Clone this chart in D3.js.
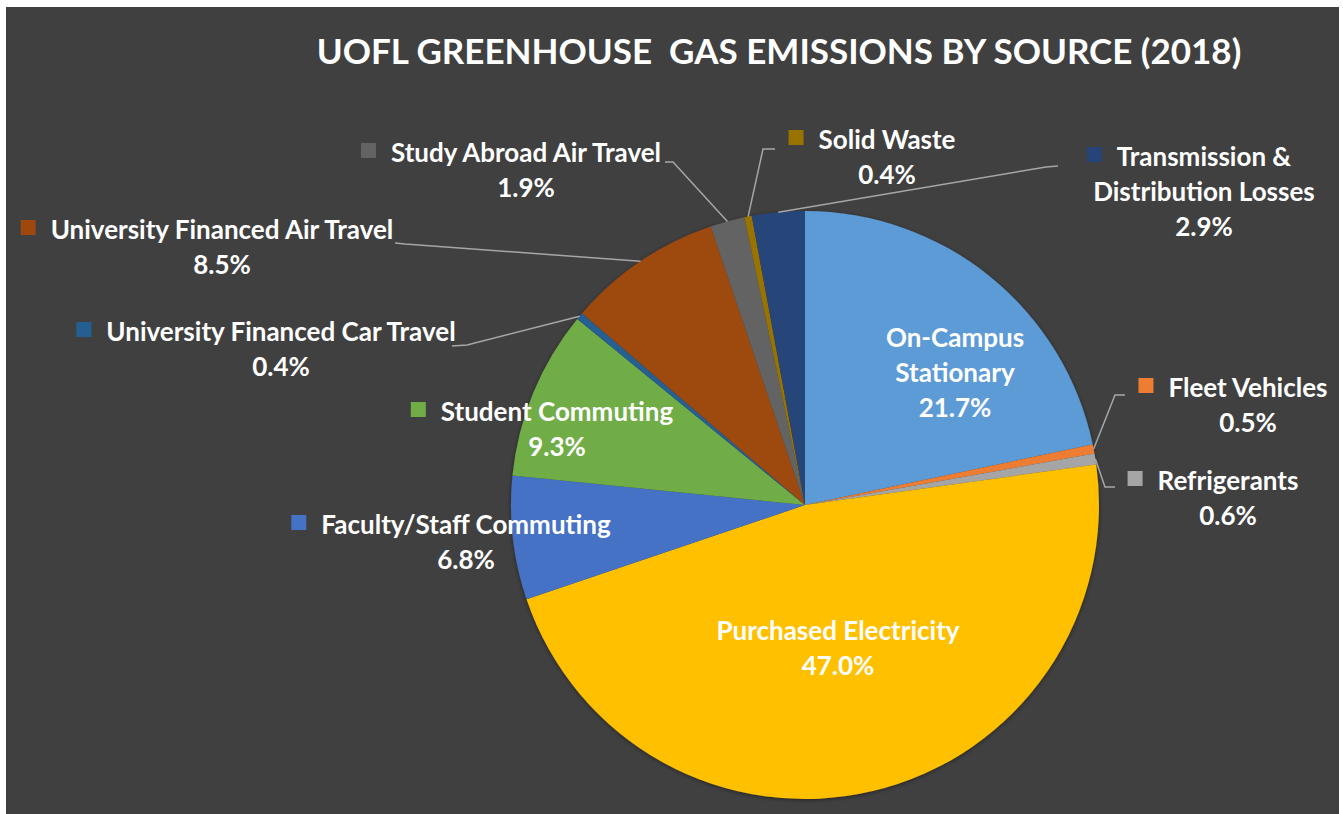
<!DOCTYPE html>
<html lang="en">
    <head>
        <meta charset="UTF-8" />
        <title>UOFL Greenhouse Gas Emissions by Source (2018)</title>
        <script src="https://cdn.jsdelivr.net/npm/d3@7/dist/d3.min.js"></script>
    </head>
    <body style="padding: 0; margin: 0; background-color: #fff;">
        <script>
            // 数据
            const categories = [
                'On-Campus Stationary',
                'Fleet Vehicles',
                'Refrigerants',
                'Purchased Electricity',
                'Faculty/Staff Commuting',
                'Student Commuting',
                'University Financed Car Travel',
                'University Financed Air Travel',
                'Study Abroad Air Travel',
                'Solid Waste',
                'Transmission & Distribution Losses'
            ];
            const shares = [21.7, 0.5, 0.6, 47.0, 6.8, 9.3, 0.4, 8.5, 1.9, 0.4, 2.9];
            const colors = [
                '#5b9bd5', '#ed7d31', '#a5a5a5', '#ffc000', '#4472c4', '#70ad47',
                '#255e91', '#9e480e', '#636363', '#997300', '#264478'
            ];

            // 标签的位置 (手动拖放, 和Excel一样)
            // lines: 名称分行; x/y: 第一行中心; key: 是否带图例色块
            // end/elbow: 引导线的两个点
            const labelLayout = [
                { lines: ['On-Campus', 'Stationary'], x: 955, y: 338, key: false },
                { lines: ['Fleet Vehicles'], x: 1248, y: 388, key: true, end: [1125, 395], elbow: [1115, 395] },
                { lines: ['Refrigerants'], x: 1228, y: 481, key: true, end: [1115, 487], elbow: [1105, 487] },
                { lines: ['Purchased Electricity'], x: 838, y: 631, key: false },
                { lines: ['Faculty/Staff Commuting'], x: 466, y: 525, key: true },
                { lines: ['Student Commuting'], x: 557, y: 412, key: true },
                { lines: ['University Financed Car Travel'], x: 281, y: 332, key: true, end: [452, 346], elbow: [467, 345] },
                { lines: ['University Financed Air Travel'], x: 222, y: 230, key: true, end: [395, 243], elbow: [405, 244] },
                { lines: ['Study Abroad Air Travel'], x: 526, y: 153, key: true, end: [665, 162], elbow: [673, 162] },
                { lines: ['Solid Waste'], x: 887, y: 140, key: true, end: [775, 149], elbow: [763, 149] },
                { lines: ['Transmission &', 'Distribution Losses'], x: 1204, y: 157, key: true, end: [1058, 166], elbow: [1046, 167] }
            ];

            const width = 1343;
            const height = 814;
            const cx = 805;
            const cy = 505;
            const radius = 294;
            const lineGap = 35;
            const fontSize = 26;

            const svg = d3
                .select('body')
                .append('svg')
                .attr('width', width)
                .attr('height', height)
                .style('display', 'block')
                .style('font-family', 'Lato, "Open Sans", sans-serif')
                .style('font-weight', 'bold');

            // 深灰色的图表区域
            svg.append('rect')
                .attr('x', 6)
                .attr('y', 7)
                .attr('width', 1333)
                .attr('height', height - 7)
                .attr('fill', '#404040');

            const defs = svg.append('defs');
            defs.append('filter')
                .attr('id', 'pie-shadow')
                .attr('x', '-10%')
                .attr('y', '-10%')
                .attr('width', '120%')
                .attr('height', '120%')
                .append('feDropShadow')
                .attr('dx', 0)
                .attr('dy', 1)
                .attr('stdDeviation', 2)
                .attr('flood-color', '#000')
                .attr('flood-opacity', 0.45);

            // 标题
            svg.append('text')
                .attr('x', 779)
                .attr('y', 51)
                .attr('dy', '0.36em')
                .attr('text-anchor', 'middle')
                .attr('fill', '#fff')
                .style('font-size', '35px')
                .text('UOFL GREENHOUSE\u00a0 GAS EMISSIONS BY SOURCE (2018)');

            const data = categories.map((name, i) => ({
                name: name,
                value: shares[i],
                color: colors[i],
                layout: labelLayout[i]
            }));

            const pie = d3
                .pie()
                .sort(null)
                .value(d => d.value);
            const arcs = pie(data);

            const arc = d3.arc().innerRadius(0).outerRadius(radius);
            const edgeArc = d3.arc().innerRadius(radius).outerRadius(radius);

            const g = svg.append('g').attr('transform', `translate(${cx},${cy})`);

            g.append('g')
                .attr('filter', 'url(#pie-shadow)')
                .selectAll('path')
                .data(arcs)
                .join('path')
                .attr('d', arc)
                .attr('fill', d => d.data.color);

            // 引导线
            svg.append('g')
                .selectAll('polyline')
                .data(arcs.filter(d => d.data.layout.end))
                .join('polyline')
                .attr('points', d => {
                    const p = edgeArc.centroid(d);
                    const L = d.data.layout;
                    return [[p[0] + cx, p[1] + cy], L.elbow, L.end].map(q => q.join(',')).join(' ');
                })
                .attr('fill', 'none')
                .attr('stroke', '#a6a6a6')
                .attr('stroke-width', 1.5);

            // 标签
            const labels = svg
                .append('g')
                .selectAll('g')
                .data(arcs)
                .join('g');

            labels.each(function (d) {
                const L = d.data.layout;
                const sel = d3.select(this);
                const rows = L.lines.concat([d3.format('.1f')(d.data.value) + '%']);
                rows.forEach((row, j) => {
                    const t = sel
                        .append('text')
                        .attr('x', L.x)
                        .attr('y', L.y + j * lineGap)
                        .attr('dy', '0.36em')
                        .attr('text-anchor', 'middle')
                        .attr('fill', '#fff')
                        .style('font-size', fontSize + 'px')
                        .text(row);
                    if (j === 0 && L.key) {
                        const w = t.node().getComputedTextLength();
                        sel.append('rect')
                            .attr('x', L.x - w / 2 - 30)
                            .attr('y', L.y - 10)
                            .attr('width', 15)
                            .attr('height', 15)
                            .attr('fill', d.data.color);
                    }
                });
            });
        </script>
    </body>
</html>
